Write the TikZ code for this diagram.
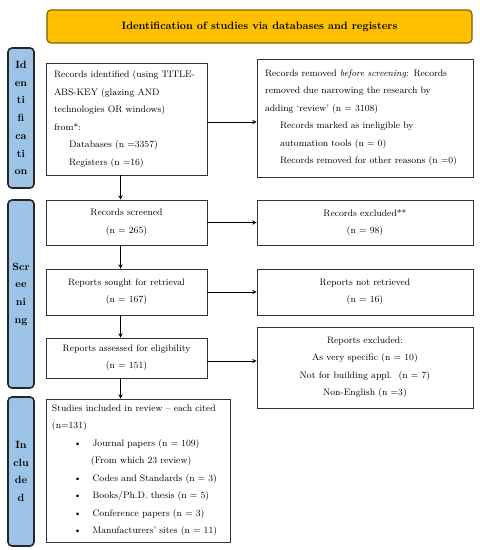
\documentclass[tikz,border=0pt]{standalone}
\usepackage{tikz}
\usetikzlibrary{positioning, arrows}
\definecolor{titleOrange}{HTML}{FFC000}
\definecolor{titleEdge}{HTML}{7F6000}
\definecolor{sideBlue}{HTML}{9DC3E6}
\tikzset{
    ->, % edges get an arrow head
    >=stealth, % small filled heads
    box/.style={draw=black!80, line width=0.9pt, fill=white, inner sep=0pt,
                font=\fontsize{9.4}{17.5}\selectfont}, % plain white record box
    sideBox/.style={draw=black!85, line width=1.6pt, rounded corners=4pt, fill=sideBlue,
                minimum width=26pt, inner sep=0pt, align=center,
                font=\fontsize{10.5}{17.7}\selectfont\bfseries}, % phase label at the left
}
\begin{document}
\begin{tikzpicture}[
                    x=1pt, y=-1pt,
                    leftBox/.style={box, minimum width=161pt},
                    rightBox/.style={box, minimum width=216pt},
                    node distance=238.5pt,
                    line width=0.9pt,
                ]
                \useasboundingbox (0,0) rectangle (480,550);
                \node[draw=titleEdge, line width=1.2pt, fill=titleOrange, rounded corners=4pt,
                      minimum width=425pt, minimum height=33pt,
                      font=\fontsize{10.7}{12}\selectfont\bfseries] (title) at (259.5,26.5)
                      {Identification of studies via databases and registers};
                \node[sideBox, minimum height=140pt] (sideId) at (21,118) {Id\\en\\ti\\fi\\ca\\ti\\on};
                \node[sideBox, minimum height=188pt] (sideSc) at (21,294) {Scr\\ee\\ni\\ng};
                \node[sideBox, minimum height=149pt] (sideIn) at (21,471.5) {In\\clu\\de\\d};

                \node[leftBox, minimum height=112pt, text width=145pt, align=left] (rec1) at (126.5,119)
                    {Records identified (using TITLE-\\ABS-KEY (glazing AND\\technologies OR windows)\\from*:\\
                     \hspace*{15pt}Databases (n =3357)\\\hspace*{15pt}Registers (n =16)};
                \node[rightBox, minimum height=118pt, text width=200pt, align=left] (rem1) at (365,118)
                    {Records removed \textit{before screening}: Records\\removed due narrowing the research by\\
                     adding `review' (n = 3108)\\\hspace*{15pt}Records marked as ineligible by\\
                     \hspace*{15pt}automation tools (n = 0)\\\hspace*{15pt}Records removed for other reasons (n =0)};
                \node[leftBox, minimum height=45pt, align=center] (rec2) at (126.5,222.5) {Records screened\\(n = 265)};
                \node[rightBox, minimum height=45pt, align=center, right of=rec2] (exc2) {Records excluded**\\(n = 98)};
                \node[leftBox, minimum height=46pt, align=center] (rec3) at (126.5,292) {Reports sought for retrieval\\(n = 167)};
                \node[rightBox, minimum height=46pt, align=center, right of=rec3] (exc3) {Reports not retrieved\\(n = 16)};
                \node[leftBox, minimum height=40pt, align=center] (rec4) at (126.5,358) {Reports assessed for eligibility\\(n = 151)};
                \node[rightBox, minimum height=81pt, align=center] (exc4) at (365,367.5)
                    {Reports excluded:\\As very specific (n = 10)\\Not for building appl.~~(n = 7)\\Non-English (n =3)};
                \node[box, minimum width=184pt, minimum height=143pt, text width=172pt, align=left] (rec5) at (138,470.5)
                    {Studies included in review -- each cited\\(n=131)\\
                     \hspace*{22pt}\textbullet\hspace{11pt}Journal papers (n = 109)\\
                     \hspace*{39pt}(From which 23 review)\\
                     \hspace*{22pt}\textbullet\hspace{11pt}Codes and Standards (n = 3)\\
                     \hspace*{22pt}\textbullet\hspace{11pt}Books/Ph.D. thesis (n = 5)\\
                     \hspace*{22pt}\textbullet\hspace{11pt}Conference papers (n = 3)\\
                     \hspace*{22pt}\textbullet\hspace{11pt}Manufacturers' sites (n = 11)};

                \path
                ([xshift=-6pt]rec1.south) edge ([xshift=-6pt]rec2.north)
                ([xshift=-6pt]rec2.south) edge ([xshift=-6pt]rec3.north)
                ([xshift=-6pt]rec3.south) edge ([xshift=-6pt]rec4.north)
                ([xshift=-6pt]rec4.south) edge ([xshift=-6pt]rec4.south |- rec5.north)
                ([yshift=-3pt]rec1.east) edge ([yshift=-3pt]rec1.east -| rem1.west)
                (rec2) edge (exc2)
                (rec3) edge (exc3)
                ([yshift=-3pt]rec4.east) edge ([yshift=-3pt]rec4.east -| exc4.west);
\end{tikzpicture}
\end{document}
